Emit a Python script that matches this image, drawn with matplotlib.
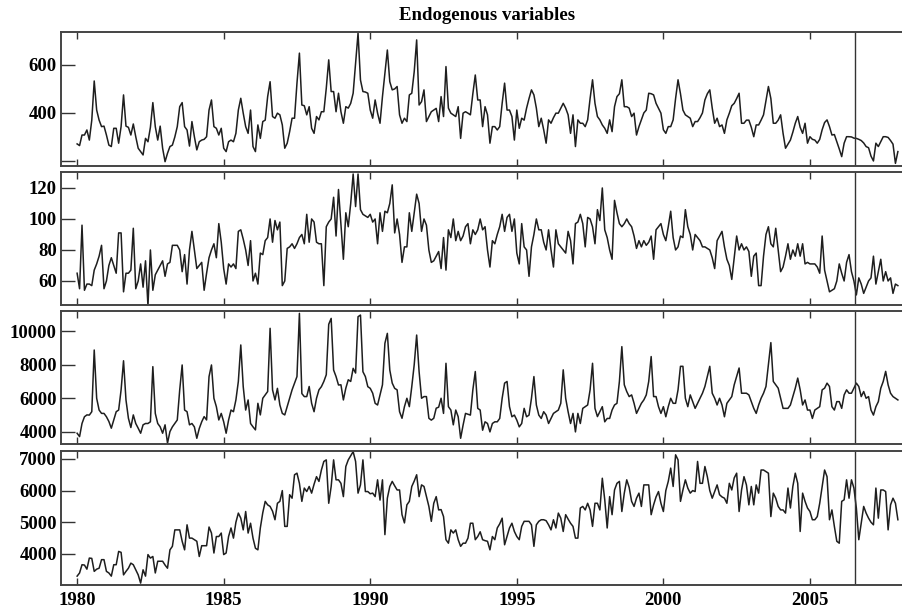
import numpy as np
import matplotlib
matplotlib.use("Agg")
import matplotlib.pyplot as plt

# Monthly observations, Jan 1980 - Jan 2008 (one row per year)
series1 = [
    271, 264, 308, 308, 329, 287, 370, 533, 412, 370, 343, 345,  # 1980
    308, 266, 260, 336, 336, 274, 343, 475, 345, 340, 308, 354,  # 1981
    301, 253, 239, 225, 294, 280, 340, 443, 343, 287, 345, 253,  # 1982
    197, 232, 260, 266, 300, 343, 426, 443, 343, 329, 262, 364,  # 1983
    301, 246, 280, 287, 290, 301, 412, 454, 343, 336, 308, 336,  # 1984
    253, 239, 280, 287, 280, 315, 412, 461, 399, 343, 315, 412,  # 1985
    260, 239, 350, 294, 364, 370, 468, 530, 385, 378, 399, 392,  # 1986
    350, 253, 274, 322, 378, 378, 524, 649, 433, 430, 392, 426,  # 1987
    336, 315, 385, 371, 405, 405, 503, 621, 489, 489, 405, 482,  # 1988
    405, 357, 426, 420, 440, 482, 607, 732, 537, 489, 487, 482,  # 1989
    412, 378, 454, 399, 357, 468, 565, 662, 530, 496, 500, 510,  # 1990
    392, 357, 378, 364, 475, 482, 572, 704, 433, 447, 496, 364,  # 1991
    385, 405, 412, 419, 364, 468, 385, 593, 420, 399, 392, 385,  # 1992
    426, 294, 399, 405, 399, 392, 480, 558, 454, 454, 343, 426,  # 1993
    392, 274, 343, 343, 329, 343, 440, 524, 412, 412, 385, 287,  # 1994
    412, 336, 378, 370, 420, 460, 496, 475, 420, 343, 378, 330,  # 1995
    274, 371, 357, 380, 399, 399, 420, 440, 420, 392, 315, 392,  # 1996
    260, 371, 357, 357, 343, 371, 460, 538, 440, 385, 371, 350,  # 1997
    336, 315, 371, 322, 426, 468, 480, 538, 426, 426, 420, 385,  # 1998
    399, 308, 343, 371, 400, 412, 482, 480, 475, 440, 420, 399,  # 1999
    330, 315, 343, 343, 371, 460, 538, 480, 412, 392, 385, 378,  # 2000
    343, 364, 364, 380, 400, 454, 480, 496, 420, 357, 378, 343,  # 2001
    350, 315, 371, 399, 430, 440, 460, 482, 357, 357, 370, 370,  # 2002
    340, 301, 350, 350, 370, 392, 450, 510, 460, 357, 357, 370,  # 2003
    392, 315, 253, 270, 287, 320, 357, 385, 340, 315, 357, 274,  # 2004
    301, 290, 287, 274, 290, 330, 360, 371, 343, 308, 310, 280,  # 2005
    250, 218, 274, 301, 301, 300, 295, 294, 290, 285, 275, 260,  # 2006
    255, 220, 200, 274, 260, 280, 301, 301, 298, 285, 270, 190,  # 2007
    239,                                                         # 2008
]

series2 = [
    65, 55, 96, 54, 58, 58, 57, 67, 71, 76, 83, 55,
    60, 70, 75, 70, 65, 91, 91, 53, 65, 65, 67, 94,
    55, 60, 71, 56, 73, 44, 80, 54, 64, 67, 70, 73,
    63, 71, 72, 83, 83, 83, 80, 66, 77, 58, 80, 92,
    80, 68, 70, 72, 54, 65, 75, 80, 84, 75, 97, 85,
    68, 58, 71, 69, 71, 68, 92, 93, 87, 80, 70, 86,
    60, 65, 58, 78, 77, 86, 88, 100, 85, 99, 93, 98,
    57, 60, 81, 82, 84, 81, 84, 88, 90, 84, 103, 85,
    100, 98, 85, 84, 84, 57, 95, 98, 100, 114, 89, 119,
    96, 74, 104, 95, 110, 129, 108, 129, 106, 103, 102, 101,
    103, 98, 100, 84, 104, 92, 105, 104, 110, 122, 91, 100,
    90, 72, 82, 82, 104, 92, 104, 116, 110, 92, 100, 96,
    80, 72, 73, 76, 79, 68, 88, 67, 93, 88, 100, 86,
    92, 86, 89, 95, 97, 84, 93, 90, 93, 100, 93, 95,
    80, 69, 86, 84, 90, 95, 103, 92, 101, 103, 92, 100,
    78, 71, 97, 82, 80, 63, 82, 90, 100, 93, 93, 85,
    80, 93, 80, 69, 93, 84, 82, 80, 78, 92, 86, 71,
    97, 98, 103, 97, 82, 101, 100, 95, 84, 106, 99, 120,
    93, 88, 80, 74, 112, 104, 97, 95, 97, 100, 97, 95,
    89, 81, 86, 82, 86, 83, 85, 89, 74, 93, 95, 97,
    90, 86, 95, 105, 88, 80, 82, 89, 88, 106, 95, 90,
    80, 90, 88, 86, 82, 82, 81, 80, 75, 68, 86, 89,
    92, 82, 74, 70, 61, 75, 89, 80, 84, 80, 82, 79,
    63, 76, 78, 57, 57, 76, 90, 95, 84, 82, 94, 80,
    66, 69, 76, 84, 74, 80, 76, 84, 76, 84, 71, 72,
    71, 71, 71, 69, 65, 89, 67, 60, 53, 54, 55, 60,
    71, 65, 60, 72, 77, 66, 60, 51, 62, 58, 52, 56,
    60, 62, 76, 58, 66, 74, 60, 66, 60, 62, 52, 58,
    57,
]

series3 = [
    3920, 3720, 4500, 4900, 5010, 5000, 5200, 8870, 6000, 5300, 5100, 5100,
    4900, 4620, 4220, 4700, 5200, 5300, 6500, 8230, 5900, 4810, 4260, 5010,
    4500, 4220, 3920, 4420, 4500, 4500, 4600, 7880, 5100, 4500, 4300, 3920,
    4420, 3330, 4020, 4300, 4500, 4710, 6500, 7980, 5300, 5200, 4420, 4500,
    4300, 3620, 4200, 4600, 4910, 4710, 7290, 7980, 6000, 5500, 4710, 5100,
    4600, 3920, 4700, 5300, 5200, 5900, 7000, 9170, 6690, 5300, 5900, 4500,
    4300, 4120, 5700, 5010, 6000, 6200, 6400, 10160, 6500, 5900, 6590, 5600,
    5100, 5010, 5500, 6000, 6500, 6890, 7290, 11050, 6280, 6100, 6100, 6700,
    5700, 5200, 6000, 6500, 6690, 7000, 7400, 10400, 10750, 7680, 7290, 6790,
    6800, 5900, 6600, 7100, 7000, 7780, 7500, 10850, 10950, 7580, 7290, 6690,
    6590, 6300, 5700, 5600, 6200, 6800, 9270, 9860, 7680, 6900, 6590, 6500,
    5200, 4810, 5500, 6000, 5500, 6690, 8000, 9760, 7580, 6000, 6100, 6100,
    4810, 4700, 4810, 5410, 5470, 6000, 5100, 8080, 5500, 5300, 4420, 5300,
    4900, 3620, 4400, 5100, 5050, 5000, 6500, 7590, 5400, 5300, 4100, 4600,
    4500, 4000, 4500, 4600, 4600, 4800, 6000, 6900, 7000, 5500, 4900, 5000,
    4700, 4300, 4500, 5400, 4900, 5000, 6000, 7290, 5600, 5000, 4800, 5200,
    5000, 4500, 4800, 5100, 5200, 5300, 5700, 7690, 6000, 5200, 4500, 5100,
    4000, 5100, 4500, 5400, 5500, 5600, 6500, 8080, 5400, 4910, 5200, 5500,
    4600, 4800, 4800, 5300, 5600, 5700, 7000, 9070, 6800, 6400, 6100, 6200,
    5700, 5100, 5400, 5700, 5900, 6200, 7000, 8480, 6100, 6100, 5500, 5100,
    5500, 4900, 5500, 6000, 5700, 5700, 6500, 7900, 7900, 6000, 5500, 6200,
    5800, 5400, 5700, 6000, 6300, 6700, 7300, 7900, 6300, 6000, 5600, 6000,
    5600, 4900, 5700, 5900, 6100, 6800, 7300, 7800, 6300, 6300, 6300, 6200,
    5800, 5400, 5100, 5600, 6000, 6300, 6700, 8000, 9310, 7000, 6800, 6600,
    6000, 5400, 5400, 5400, 5600, 6100, 6600, 7200, 6500, 5600, 5900, 5300,
    5300, 4800, 5300, 5400, 5500, 6500, 6600, 6900, 6700, 5500, 5300, 5800,
    5800, 5400, 6200, 6500, 6300, 6300, 6600, 6900, 6700, 6100, 6400, 6000,
    6100, 5300, 5000, 5500, 5800, 6600, 7000, 7600, 6800, 6300, 6100, 6000,
    5900,
]

series4 = [
    3300, 3400, 3660, 3650, 3520, 3870, 3860, 3450, 3520, 3550, 3820, 3820,
    3450, 3400, 3300, 3660, 3660, 4080, 4050, 3340, 3450, 3550, 3710, 3660,
    3500, 3340, 3080, 3500, 3300, 3980, 3870, 3920, 3400, 3770, 3770, 3770,
    3650, 3550, 4130, 4240, 4760, 4760, 4760, 4400, 4130, 4920, 4500, 4500,
    4450, 4400, 3920, 4260, 4260, 4260, 4850, 4660, 4030, 4550, 4550, 4660,
    3980, 4030, 4550, 4820, 4500, 5000, 5290, 5130, 4760, 5340, 4660, 4970,
    4500, 4180, 4130, 4820, 5300, 5660, 5550, 5500, 5350, 5080, 5600, 5660,
    6000, 4870, 4870, 5870, 5760, 6500, 6550, 6230, 5660, 6080, 5970, 6130,
    5920, 6200, 6440, 6290, 6650, 6920, 6970, 5600, 6130, 6970, 6340, 6340,
    6230, 5810, 6760, 6970, 7100, 7230, 6920, 5920, 6180, 6970, 5970, 5970,
    5900, 5920, 5810, 6340, 5700, 6340, 4610, 5760, 6130, 6290, 6150, 6020,
    6020, 5240, 4980, 5550, 5660, 6130, 6300, 6500, 5810, 6180, 6130, 5810,
    5500, 5030, 5600, 5810, 5390, 5400, 5180, 4450, 4340, 4760, 4660, 4760,
    4450, 4240, 4340, 4340, 4500, 4970, 4970, 4450, 4550, 4700, 4450, 4420,
    4400, 4130, 4550, 4450, 4820, 4950, 5130, 4290, 4550, 4820, 4970, 4710,
    4550, 4450, 4870, 5030, 5030, 5030, 4920, 4240, 4920, 5030, 5080, 5080,
    5050, 4920, 4760, 5080, 4820, 5290, 5130, 4710, 5240, 5100, 4970, 4870,
    4500, 4500, 5450, 5500, 5390, 5600, 5390, 4870, 5600, 5600, 5390, 6390,
    5710, 4820, 5810, 5240, 6020, 6230, 6290, 5340, 5920, 6340, 6100, 5660,
    5500, 5760, 5920, 5500, 6180, 6180, 6180, 5240, 5550, 5800, 5970, 5600,
    5340, 6000, 6290, 6710, 6130, 7130, 6970, 5660, 6020, 6340, 6080, 5920,
    6000, 5970, 6920, 6230, 6230, 6760, 6440, 6000, 5760, 5970, 6180, 5870,
    5800, 5760, 5600, 6230, 6020, 6400, 6550, 5340, 6020, 6440, 6180, 5550,
    6130, 5550, 6180, 5920, 6650, 6650, 6600, 6550, 5180, 5920, 5760, 5500,
    5390, 5390, 5290, 6080, 5450, 6130, 6550, 6230, 4710, 5920, 5660, 5450,
    5340, 5080, 5080, 5180, 5600, 6130, 6650, 6440, 5080, 5390, 4870, 4400,
    4340, 5660, 5710, 6340, 5760, 6340, 6080, 5450, 4450, 4970, 5500, 5290,
    5130, 5000, 4920, 6080, 5130, 6020, 6020, 5970, 4760, 5550, 5760, 5600,
    5080,
]

year_ticks = [1980, 1985, 1990, 1995, 2000, 2005]
break_date = 2006.54

yticks = [[200, 400, 600], [60, 80, 100, 120],
          [4000, 6000, 8000, 10000], [4000, 5000, 6000, 7000]]
yticklabels = [['', '400', '600'], ['60', '80', '100', '120'],
               ['4000', '6000', '8000', '10000'], ['4000', '5000', '6000', '7000']]
ylims = [(179, 737), (44.5, 130.3), (3280, 11190), (3020, 7250)]

t = 1980 + np.arange(len(series1)) / 12.0

plt.rcParams['font.family'] = ['Liberation Serif', 'DejaVu Serif']
plt.rcParams['font.weight'] = 'bold'

fig = plt.figure(figsize=(9.02, 6.09), dpi=100)
W, H = 902.0, 609.0
left, right = 61, 914
rows = [(32, 166), (172, 305), (311, 444), (451, 585)]

for k, series in enumerate([series1, series2, series3, series4]):
    top, bot = rows[k]
    ax = fig.add_axes([left / W, 1 - bot / H, (right - left) / W, (bot - top) / H])
    ax.plot(t, series, color='#1e1e1e', lw=1.1)
    ax.axvline(break_date, color='#333333', lw=1.0)
    ax.set_xlim(1979.45, 2008.55)
    ax.set_ylim(*ylims[k])
    ax.set_yticks(yticks[k])
    ax.set_yticklabels(yticklabels[k])
    ax.set_xticks(year_ticks)
    ax.tick_params(axis='x', direction='in', length=5, width=1.0, top=True,
                   color='#333333', labelsize=13.5, pad=5)
    ax.tick_params(axis='y', direction='in', length=10, width=1.0,
                   color='#333333', labelsize=13.5, pad=3)
    if k < 3:
        ax.set_xticklabels([])
    for s in ax.spines.values():
        s.set_color('#444444')
        s.set_linewidth(1.4)
    if k == 0:
        ax.set_title('Endogenous variables', fontsize=13.5, fontweight='bold', pad=9)

fig.savefig('out.png', dpi=100)
